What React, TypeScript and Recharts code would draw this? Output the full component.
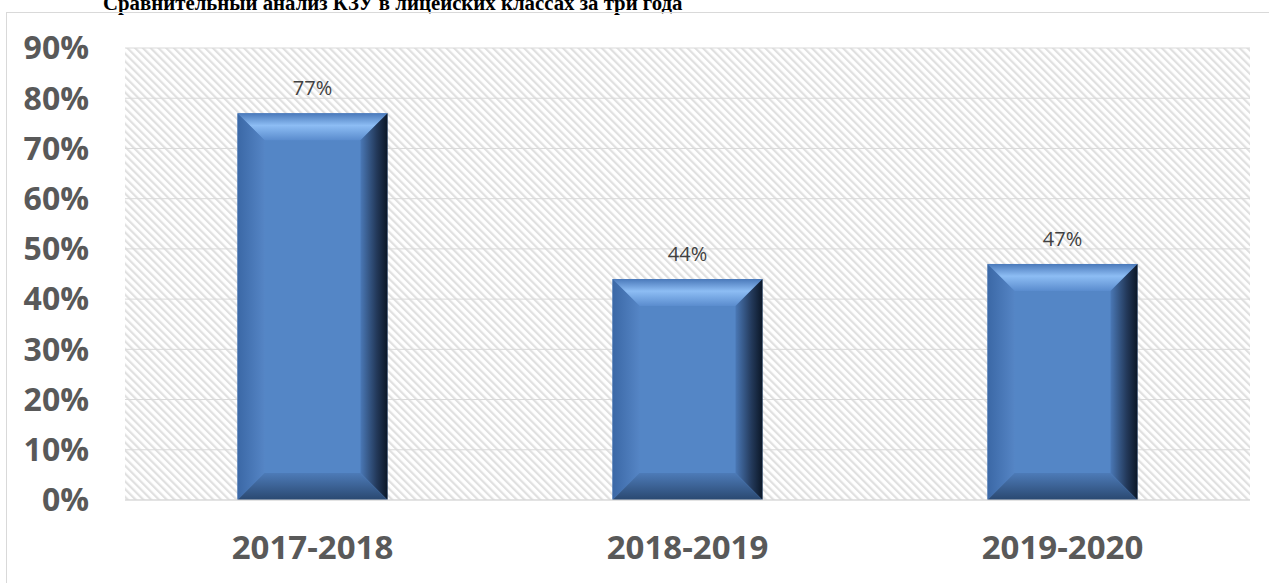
import React from 'react';
import { BarChart, Bar, XAxis, YAxis, CartesianGrid, LabelList } from 'recharts';

const years = ['2017-2018', '2018-2019', '2019-2020'];
const shares = [77, 44, 47];
const yTicks = [0, 10, 20, 30, 40, 50, 60, 70, 80, 90];

const data = years.map((year, i) => ({ year, share: shares[i] }));

const BevelBar = (props: any) => {
  const { x, y, width: w, height: h } = props;
  if (!w || !h) return null;
  const b = Math.min(27, w / 2, h / 2);
  return (
    <g>
      <rect x={x} y={y} width={w} height={h} fill="#5486c6" />
      <polygon points={`${x},${y} ${x + w},${y} ${x + w - b},${y + b} ${x + b},${y + b}`} fill="url(#bevTop)" />
      <polygon points={`${x},${y} ${x + b},${y + b} ${x + b},${y + h - b} ${x},${y + h}`} fill="url(#bevLeft)" />
      <polygon points={`${x + w},${y} ${x + w},${y + h} ${x + w - b},${y + h - b} ${x + w - b},${y + b}`} fill="url(#bevRight)" />
      <polygon points={`${x},${y + h} ${x + w},${y + h} ${x + w - b},${y + h - b} ${x + b},${y + h - b}`} fill="url(#bevBottom)" />
    </g>
  );
};

export default function App() {
  return (
    <div style={{ position: 'fixed', left: 0, top: 0, width: 1269, height: 583, background: '#fff', overflow: 'hidden' }}>
      <div
        style={{
          position: 'absolute',
          left: 103,
          top: -8,
          fontFamily: '"Liberation Serif", serif',
          fontWeight: 700,
          fontSize: 20.8,
          lineHeight: '22px',
          whiteSpace: 'nowrap',
          color: '#000',
        }}
      >
        Сравнительный анализ КЗУ в лицейских классах за три года
      </div>
      <div
        style={{
          position: 'absolute',
          left: 6,
          top: 12,
          width: 1300,
          height: 600,
          border: '1px solid #d9d9d9',
          boxSizing: 'border-box',
        }}
      />
      <div style={{ position: 'absolute', left: 0, top: 0 }}>
        <BarChart
          width={1269}
          height={583}
          data={data}
          margin={{ top: 48, right: 19, bottom: 0, left: 0 }}
          barCategoryGap="30%"
        >
          <defs>
            <pattern id="hatch" patternUnits="userSpaceOnUse" width="5.5" height="5.5" patternTransform="rotate(-45)">
              <rect x="0" y="0" width="5.5" height="5.5" fill="#ffffff" />
              <rect x="0" y="0" width="2.2" height="5.5" fill="#e0e0e0" />
            </pattern>
            <linearGradient id="bevTop" x1="0" y1="0" x2="0" y2="1">
              <stop offset="0%" stopColor="#4a79ba" />
              <stop offset="45%" stopColor="#8dbdf4" />
              <stop offset="100%" stopColor="#5a8cce" />
            </linearGradient>
            <linearGradient id="bevLeft" x1="0" y1="0" x2="1" y2="0">
              <stop offset="0%" stopColor="#3b68a6" />
              <stop offset="100%" stopColor="#5585c5" />
            </linearGradient>
            <linearGradient id="bevRight" x1="0" y1="0" x2="1" y2="0">
              <stop offset="0%" stopColor="#4a78b6" />
              <stop offset="60%" stopColor="#23395a" />
              <stop offset="100%" stopColor="#0b1727" />
            </linearGradient>
            <linearGradient id="bevBottom" x1="0" y1="0" x2="0" y2="1">
              <stop offset="0%" stopColor="#4d7bb8" />
              <stop offset="100%" stopColor="#2a4870" />
            </linearGradient>
          </defs>
          <CartesianGrid vertical={false} stroke="#d9d9d9" fill="url(#hatch)" fillOpacity={1} />
          <XAxis
            dataKey="year"
            axisLine={{ stroke: '#d9d9d9' }}
            tickLine={false}
            tickSize={0}
            tickMargin={36}
            height={83}
            tick={{ fill: '#595959', fontSize: 33, fontWeight: 700, fontFamily: '"Open Sans", sans-serif' }}
          />
          <YAxis
            domain={[0, 90]}
            ticks={yTicks}
            interval={0}
            axisLine={false}
            tickLine={false}
            tickSize={0}
            tickMargin={36}
            width={125}
            tickFormatter={(v: number) => `${v}%`}
            tick={{ fill: '#595959', fontSize: 32, fontWeight: 700, fontFamily: '"Open Sans", sans-serif' }}
          />
          <Bar dataKey="share" shape={BevelBar} isAnimationActive={false}>
            <LabelList
              dataKey="share"
              position="top"
              offset={18}
              formatter={(v: number) => `${v}%`}
              style={{ fill: '#404040', fontSize: 20, fontFamily: '"Open Sans", sans-serif' }}
            />
          </Bar>
        </BarChart>
      </div>
    </div>
  );
}
